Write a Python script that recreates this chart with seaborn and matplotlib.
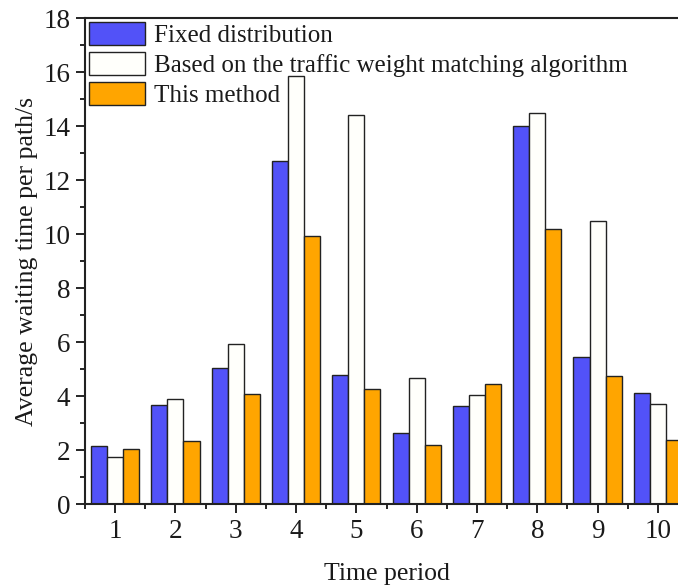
import numpy as np
import pandas as pd
import matplotlib
matplotlib.use("Agg")
import matplotlib.pyplot as plt
import seaborn as sns
from matplotlib.ticker import MultipleLocator, FixedLocator

periods = ["1", "2", "3", "4", "5", "6", "7", "8", "9", "10"]
series_names = ["Fixed distribution",
                "Based on the traffic weight matching algorithm",
                "This method"]
fixed = [2.15, 3.68, 5.02, 12.70, 4.76, 2.62, 3.63, 14.00, 5.44, 4.11]
traffic = [1.75, 3.89, 5.94, 15.86, 14.42, 4.67, 4.02, 14.50, 10.48, 3.69]
this_method = [2.04, 2.33, 4.07, 9.93, 4.26, 2.19, 4.44, 10.19, 4.74, 2.36]
colors = ["#5252F8", "#FFFFFB", "#FFA500"]

sns.set_theme(style="ticks")
plt.rcParams["font.family"] = ["Liberation Serif", "DejaVu Serif"]

df = pd.DataFrame({
    "Time period": periods * 3,
    "value": fixed + traffic + this_method,
    "series": [series_names[0]] * 10 + [series_names[1]] * 10 + [series_names[2]] * 10,
})

fig = plt.figure(figsize=(6.78, 5.87), dpi=100)
ax = fig.add_axes([85 / 678, 1 - 504 / 587, (688 - 85) / 678, (504 - 18) / 587])

sns.barplot(data=df, x="Time period", y="value", hue="series",
            order=periods, hue_order=series_names, palette=colors,
            width=0.8, edgecolor="#222222", linewidth=1.0, saturation=1,
            ax=ax, errorbar=None)

ax.set_xlim(-0.5, 9.5)
ax.set_ylim(0, 18)
ax.yaxis.set_major_locator(MultipleLocator(2))
ax.yaxis.set_minor_locator(MultipleLocator(1))
ax.xaxis.set_minor_locator(FixedLocator(np.arange(-0.5, 10, 1.0)))
ax.tick_params(which="major", direction="out", length=6.5, width=1.2,
               labelsize=19.5, color="black", labelcolor="#1a1a1a", pad=4)
ax.tick_params(which="minor", direction="out", length=3.5, width=1.2, color="black")
ax.tick_params(axis="x", which="both", top=False)
ax.tick_params(axis="y", which="both", right=False)
for side in ["left", "bottom", "top", "right"]:
    ax.spines[side].set_linewidth(1.5)
    ax.spines[side].set_color("#222222")

ax.set_xlabel("Time period", fontsize=18.5, color="#1a1a1a", labelpad=14)
ax.set_ylabel("Average waiting time per path/s", fontsize=18.5, color="#1a1a1a", labelpad=4)

leg = ax.legend(loc="upper left", frameon=False, fontsize=18,
                handlelength=2.25, handleheight=1.05, labelspacing=0.2,
                handletextpad=0.35, borderaxespad=0.15, borderpad=0.0)
for t in leg.get_texts():
    t.set_color("#1a1a1a")

fig.savefig("out.png", dpi=100)
